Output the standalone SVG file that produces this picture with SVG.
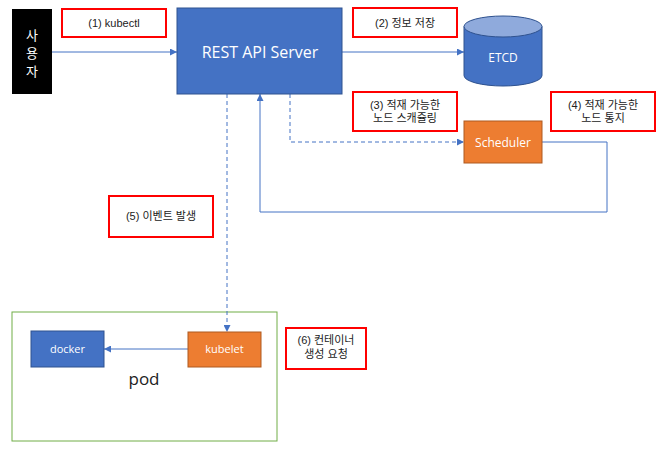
<svg xmlns="http://www.w3.org/2000/svg" width="668" height="457" viewBox="0 0 668 457">
<defs>
<style>
.lbl{fill:#fff;stroke:#ff0000;stroke-width:2}
.lt{font-family:"Liberation Sans","Noto Sans CJK KR",sans-serif;font-size:11px;fill:#222;text-anchor:middle}
.blue{fill:#4472c4;stroke:#2f528f;stroke-width:1}
.orange{fill:#ed7d31;stroke:#ae5a21;stroke-width:1}
.wt{font-family:"Open Sans","Liberation Sans","Noto Sans CJK KR",sans-serif;fill:#fff;text-anchor:middle}
.con{fill:none;stroke:#4472c4;stroke-width:1}
.dash{stroke-dasharray:4,3}
</style>
<marker id="ah" viewBox="0 0 10 10" refX="10" refY="5" markerWidth="7" markerHeight="7" markerUnits="userSpaceOnUse" orient="auto">
<path d="M0,0 L10,5 L0,10 z" fill="#4472c4"/>
</marker>
</defs>
<rect width="668" height="457" fill="#fff"/>

<g id="pod">
<rect x="12" y="312" width="265" height="129" fill="none" stroke="#70ad47" stroke-width="1"/>
<text x="144" y="385" font-family="Open Sans,Liberation Sans,sans-serif" font-size="17" fill="#222" text-anchor="middle">pod</text>
</g>

<g id="connectors">
<line class="con" x1="52" y1="52" x2="177" y2="52" marker-end="url(#ah)"/>
<line class="con" x1="342" y1="52" x2="464" y2="52" marker-end="url(#ah)"/>
<polyline class="con dash" points="290,94 290,142 464,142" marker-end="url(#ah)"/>
<polyline class="con" points="542,142 607,142 607,212 260,212 260,94" marker-end="url(#ah)"/>
<line class="con dash" x1="227" y1="94" x2="227" y2="332" marker-end="url(#ah)"/>
<line class="con" x1="188" y1="349" x2="104" y2="349" marker-end="url(#ah)"/>
</g>

<g id="user">
<rect x="12" y="9" width="40" height="85" fill="#000"/>
<text class="wt" x="32" y="40" font-size="13" font-family="Noto Sans CJK KR,sans-serif">사</text>
<text class="wt" x="32" y="58" font-size="13" font-family="Noto Sans CJK KR,sans-serif">용</text>
<text class="wt" x="32" y="76" font-size="13" font-family="Noto Sans CJK KR,sans-serif">자</text>
</g>

<g id="api-server">
<rect class="blue" x="177" y="8" width="165" height="86"/>
<text class="wt" x="260" y="58" font-size="16">REST API Server</text>
</g>

<g id="etcd">
<path class="blue" d="M464,26.5 L464,75.5 A39,10.5 0 0 0 542,75.5 L542,26.5"/>
<ellipse cx="503" cy="26.5" rx="39" ry="10.5" fill="#8faadc" stroke="#2f528f" stroke-width="1"/>
<text class="wt" x="503" y="62" font-size="12">ETCD</text>
</g>

<g id="scheduler">
<rect class="orange" x="464" y="121" width="78" height="42"/>
<text class="wt" x="503" y="147" font-size="12">Scheduler</text>
</g>

<g id="docker">
<rect class="blue" x="31" y="331" width="73" height="36"/>
<text class="wt" x="67.5" y="353" font-size="11">docker</text>
</g>

<g id="kubelet">
<rect class="orange" x="188" y="332" width="73" height="35"/>
<text class="wt" x="224.5" y="353" font-size="11">kubelet</text>
</g>

<g id="label1">
<rect class="lbl" x="62" y="9" width="104" height="28"/>
<text class="lt" x="114" y="27">(1) kubectl</text>
</g>
<g id="label2">
<rect class="lbl" x="353" y="8" width="104" height="29"/>
<text class="lt" x="405" y="27">(2) 정보 저장</text>
</g>
<g id="label3">
<rect class="lbl" x="353" y="92" width="104" height="39"/>
<text class="lt" x="405" y="108.5">(3) 적재 가능한</text>
<text class="lt" x="405" y="121.5">노드 스캐쥴링</text>
</g>
<g id="label4">
<rect class="lbl" x="551" y="92" width="104" height="39"/>
<text class="lt" x="603" y="108.5">(4) 적재 가능한</text>
<text class="lt" x="603" y="121.5">노드 통지</text>
</g>
<g id="label5">
<rect class="lbl" x="109" y="196" width="104" height="41"/>
<text class="lt" x="161" y="220">(5) 이벤트 발생</text>
</g>
<g id="label6">
<rect class="lbl" x="286" y="328" width="80" height="41"/>
<text class="lt" x="326" y="344">(6) 컨테이너</text>
<text class="lt" x="326" y="358">생성 요청</text>
</g>
</svg>
